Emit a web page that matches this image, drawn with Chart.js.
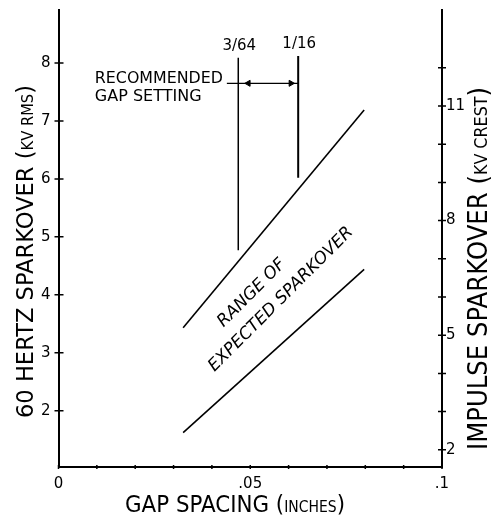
<!DOCTYPE html>
<html>
<head>
<meta charset="utf-8">
<script src="https://cdn.jsdelivr.net/npm/chart.js@4/dist/chart.umd.min.js"></script>
<style>
html,body{margin:0;padding:0;background:#fff}
</style>
</head>
<body>
<canvas id="gapChart" width="491" height="517"></canvas>
<script>
/* ---------- DATA ---------- */

// range of expected sparkover (gap in inches, 60 Hz kV rms)
const rangeGap = [0.0325, 0.0797];
const upperKv = [3.43, 7.19];
const lowerKv = [1.62, 4.44];

// recommended gap setting 3/64 .. 1/16
const settingGap = [3/64, 1/16];
const settingLabels = ["3/64", "1/16"];
const settingTopKv = [8.09, 8.12];
const settingBottomKv = [4.77, 6.02];
const settingArrowKv = 7.65;
const leaderGap = 0.0439;
const arrowGap = [0.0495, 0.0606];

// label anchors for the band text
const bandLabels = ["RANGE OF", "EXPECTED SPARKOVER"];
const bandLabelGap = [0.0504, 0.0580];
const bandLabelKv = [4.03, 3.92];

// axes
const gapTicks = [0, 0.01, 0.02, 0.03, 0.04, 0.05, 0.06, 0.07, 0.08, 0.09, 0.1];
const gapLabelled = [0, 0.05, 0.1];
const gapLabels = ["0", ".05", ".1"];
const rmsTicks = [2, 3, 4, 5, 6, 7, 8];
const crestTicks = [2, 3, 4, 5, 6, 7, 8, 9, 10, 11, 12];
const crestLabelled = [2, 5, 8, 11];

const FONT = "DejaVu Sans";

/* ---------- HELPERS ---------- */

function pts(xs, ys){
  return xs.map((x, i) => ({x: x, y: ys[i]}));
}

function drawTitle(ctx, cx, cy, rot, parts, len){
  ctx.save();
  ctx.translate(cx, cy);
  ctx.rotate(rot);
  let w = 0;
  parts.forEach(p => { ctx.font = p[1]; w += ctx.measureText(p[0]).width; });
  ctx.scale(len / w, 1);
  let x = -w / 2;
  ctx.textAlign = "left";
  ctx.textBaseline = "alphabetic";
  parts.forEach(p => {
    ctx.font = p[1];
    ctx.fillText(p[0], x, 0);
    x += ctx.measureText(p[0]).width;
  });
  ctx.restore();
}

function noPad(s){
  s.paddingTop = 0;
  s.paddingBottom = 0;
  s.paddingLeft = 0;
  s.paddingRight = 0;
}

/* ---------- PLUGINS ---------- */

const crossTicks = {
  id: "crossTicks",
  afterDraw(chart){
    const ctx = chart.ctx, a = chart.chartArea;
    const sx = chart.scales.x, sy = chart.scales.y, sr = chart.scales.y2;
    ctx.save();
    ctx.strokeStyle = "#000";
    ctx.lineWidth = 1.5;
    ctx.beginPath();
    sy.ticks.forEach(t => { const p = sy.getPixelForValue(t.value); ctx.moveTo(a.left - 4, p); ctx.lineTo(a.left + 5, p); });
    sr.ticks.forEach(t => { const p = sr.getPixelForValue(t.value); ctx.moveTo(a.right - 4, p); ctx.lineTo(a.right + 4, p); });
    sx.ticks.forEach(t => { const p = sx.getPixelForValue(t.value); ctx.moveTo(p, a.bottom - 2); ctx.lineTo(p, a.bottom + 2); });
    ctx.stroke();
    ctx.restore();
  }
};

const notes = {
  id: "notes",
  afterDraw(chart){
    const ctx = chart.ctx, a = chart.chartArea;
    const sx = chart.scales.x, sy = chart.scales.y;
    ctx.save();
    ctx.fillStyle = "#000";

    // fraction labels above the setting lines
    ctx.font = "15px " + FONT;
    ctx.textAlign = "center";
    ctx.textBaseline = "alphabetic";
    settingLabels.forEach((s, i) => {
      ctx.fillText(s, sx.getPixelForValue(settingGap[i]) + 1, sy.getPixelForValue(settingTopKv[i]) - 8, 40);
    });

    // recommended gap setting
    const lx = sx.getPixelForValue(leaderGap) - 4;
    const ly = sy.getPixelForValue(settingArrowKv);
    ctx.font = "16px " + FONT;
    ctx.textAlign = "right";
    ctx.fillText("RECOMMENDED", lx, ly, 128);
    ctx.textAlign = "left";
    ctx.fillText("GAP SETTING", lx - 128, ly + 18, 112);

    // band text
    ctx.font = "italic 17px " + FONT;
    ctx.textAlign = "center";
    ctx.textBaseline = "middle";
    const widths = [90, 210];
    bandLabels.forEach((s, i) => {
      ctx.save();
      ctx.translate(sx.getPixelForValue(bandLabelGap[i]), sy.getPixelForValue(bandLabelKv[i]));
      ctx.rotate(-45 * Math.PI / 180);
      ctx.fillText(s, 0, 0, widths[i]);
      ctx.restore();
    });
    ctx.restore();

    // axis titles
    ctx.fillStyle = "#000";
    drawTitle(ctx, a.left - 26, 251.5, -Math.PI / 2,
      [["60 HERTZ SPARKOVER (", "23px " + FONT], ["KV RMS", "15px " + FONT], [")", "23px " + FONT]], 333);
    drawTitle(ctx, a.right + 45, 268.5, -Math.PI / 2,
      [["IMPULSE SPARKOVER (", "26px " + FONT], ["KV CREST", "17px " + FONT], [")", "26px " + FONT]], 363);
    drawTitle(ctx, 235, a.bottom + 45, 0,
      [["GAP SPACING (", "23px " + FONT], ["INCHES", "15px " + FONT], [")", "23px " + FONT]], 220);
  }
};

/* ---------- CHART ---------- */

const ctx = document.getElementById("gapChart").getContext("2d");

const line = (data, w) => ({
  data: data,
  borderColor: "#000",
  borderWidth: w,
  pointRadius: 0,
  fill: false,
  yAxisID: "y"
});

new Chart(ctx, {
  type: "line",
  data: {
    datasets: [
      line(pts(rangeGap, upperKv), 1.6),
      line(pts(rangeGap, lowerKv), 1.6),
      line(pts([settingGap[0], settingGap[0]], [settingBottomKv[0], settingTopKv[0]]), 1.5),
      line(pts([settingGap[1], settingGap[1]], [settingBottomKv[1], settingTopKv[1]]), 2),
      line(pts([leaderGap, settingGap[1]], [settingArrowKv, settingArrowKv]), 1.2),
      {
        data: pts(arrowGap, [settingArrowKv, settingArrowKv]),
        showLine: false,
        pointStyle: "triangle",
        rotation: [270, 90],
        pointRadius: 3.5,
        backgroundColor: "#000",
        borderColor: "#000",
        borderWidth: 1,
        yAxisID: "y"
      }
    ]
  },
  options: {
    responsive: false,
    animation: false,
    layout: {padding: {top: 10}},
    elements: {line: {tension: 0}},
    plugins: {legend: {display: false}, tooltip: {enabled: false}},
    scales: {
      x: {
        type: "linear",
        min: 0, max: 0.1,
        afterFit(s){ s.height = 50; noPad(s); },
        afterBuildTicks(s){ s.ticks = gapTicks.map(v => ({value: v})); },
        ticks: {
          autoSkip: false, maxRotation: 0, padding: 8, color: "#000",
          font: {family: FONT, size: 15},
          callback(v){
            const i = gapLabelled.findIndex(g => Math.abs(g - v) < 1e-9);
            return i < 0 ? "" : gapLabels[i];
          }
        },
        grid: {drawOnChartArea: false, drawTicks: false},
        border: {color: "#000", width: 2}
      },
      y: {
        type: "linear",
        position: "left",
        min: 1.028, max: 8.915,
        afterFit(s){ s.width = 58.5; noPad(s); },
        afterBuildTicks(s){ s.ticks = rmsTicks.map(v => ({value: v})); },
        ticks: {padding: 8, color: "#000", font: {family: FONT, size: 15}},
        grid: {drawOnChartArea: false, drawTicks: false},
        border: {color: "#000", width: 2}
      },
      y2: {
        type: "linear",
        position: "right",
        min: 1.55, max: 13.513,
        afterFit(s){ s.width = 49; noPad(s); },
        afterBuildTicks(s){ s.ticks = crestTicks.map(v => ({value: v})); },
        ticks: {
          padding: 4, color: "#000", font: {family: FONT, size: 15},
          callback(v){ return crestLabelled.includes(v) ? String(v) : ""; }
        },
        grid: {drawOnChartArea: false, drawTicks: false},
        border: {color: "#000", width: 2}
      }
    }
  },
  plugins: [crossTicks, notes]
});
</script>
</body>
</html>
